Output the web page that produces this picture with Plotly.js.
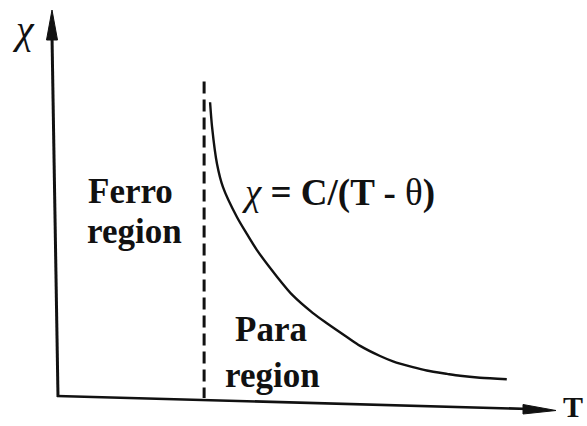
<!DOCTYPE html>
<html>
<head>
<meta charset="utf-8">
<script src="https://cdn.plot.ly/plotly-3.0.1.min.js"></script>
<style>
  html, body { margin: 0; padding: 0; background: #ffffff; }
  #chart { width: 587px; height: 426px; }
</style>
</head>
<body>
<div id="chart"></div>
<script>
// Curie-Weiss susceptibility sketch: chi falls off as C/(T - theta) above the Curie point
const tempT = [3.10, 3.14, 3.24, 3.36, 3.64, 3.84, 4.04, 4.45, 4.77, 5.17, 5.45,
               5.86, 6.12, 6.52, 6.78, 7.18, 7.46, 7.87, 8.13, 8.53, 9.07];
const chiValues = [6.13, 5.62, 4.85, 4.37, 3.75, 3.40, 3.07, 2.51, 2.12, 1.76, 1.55,
                   1.26, 1.08, 0.87, 0.76, 0.64, 0.57, 0.50, 0.46, 0.42, 0.39];

// Curie temperature marker (dashed boundary between the two regions)
const thetaT = [2.98, 2.98];
const thetaChi = [-0.03, 6.63];

// Text labels
const regionLabels = ["Ferro", "region", "Para", "region"];
const formulaLabel = "<i>χ</i> <b>= C/(T -</b> θ<b>)</b>";
const yAxisLabel = "χ";
const xAxisLabel = "T";

const W = 587, H = 426;
const M = { l: 56, r: 34, t: 12, b: 28 };
// pixel position -> paper fraction helpers for the hand-drawn axes and labels
const fx = px => (px - M.l) / (W - M.l - M.r);
const fy = py => (H - M.b - py) / (H - M.t - M.b);

const serif = "Liberation Serif, DejaVu Serif, serif";

const traces = [
  {
    x: tempT, y: chiValues, type: "scatter", mode: "lines",
    line: { color: "#111111", width: 2.4, shape: "spline", smoothing: 0.8 },
    hoverinfo: "skip"
  },
  {
    x: thetaT, y: thetaChi, type: "scatter", mode: "lines",
    line: { color: "#111111", width: 3, dash: "12px,6px" },
    hoverinfo: "skip"
  }
];

function tri(p1, p2, p3) {
  return `M ${fx(p1[0])} ${fy(p1[1])} L ${fx(p2[0])} ${fy(p2[1])} L ${fx(p3[0])} ${fy(p3[1])} Z`;
}

const shapes = [
  // vertical axis line
  { type: "line", xref: "paper", yref: "paper",
    x0: fx(58), y0: fy(397), x1: fx(52), y1: fy(36),
    line: { color: "#111111", width: 3 } },
  // vertical arrowhead
  { type: "path", xref: "paper", yref: "paper",
    path: tri([52, 10], [46.5, 40], [57.5, 40]),
    fillcolor: "#111111", line: { color: "#111111", width: 1 } },
  // horizontal axis line
  { type: "line", xref: "paper", yref: "paper",
    x0: fx(57), y0: fy(396), x1: fx(530), y1: fy(409),
    line: { color: "#111111", width: 2.6 } },
  // horizontal arrowhead
  { type: "path", xref: "paper", yref: "paper",
    path: tri([556, 410.5], [523, 404.5], [523, 414]),
    fillcolor: "#111111", line: { color: "#111111", width: 1 } }
];

function label(text, px, py, size, opts) {
  return Object.assign({
    xref: "paper", yref: "paper", x: fx(px), y: fy(py),
    text: text, showarrow: false, xanchor: "center", yanchor: "middle",
    font: { family: serif, size: size, color: "#111111" }
  }, opts || {});
}

const annotations = [
  label("<b>" + regionLabels[0] + "</b>", 130, 191, 35),
  label("<b>" + regionLabels[1] + "</b>", 134, 231, 35),
  label("<b>" + regionLabels[2] + "</b>", 271, 329, 35),
  label("<b>" + regionLabels[3] + "</b>", 272, 375, 35),
  label(formulaLabel, 240, 193, 37, { xanchor: "left" }),
  label("<i>" + yAxisLabel + "</i>", 23, 29, 40),
  label("<b>" + xAxisLabel + "</b>", 561, 406, 30, { xanchor: "left" })
];

const layout = {
  width: W, height: H,
  margin: M,
  paper_bgcolor: "#ffffff", plot_bgcolor: "#ffffff",
  showlegend: false,
  xaxis: { range: [0, 10], visible: false, fixedrange: true },
  yaxis: { range: [0, 8], visible: false, fixedrange: true },
  shapes: shapes,
  annotations: annotations
};

Plotly.newPlot("chart", traces, layout, { staticPlot: true, displayModeBar: false });
</script>
</body>
</html>
